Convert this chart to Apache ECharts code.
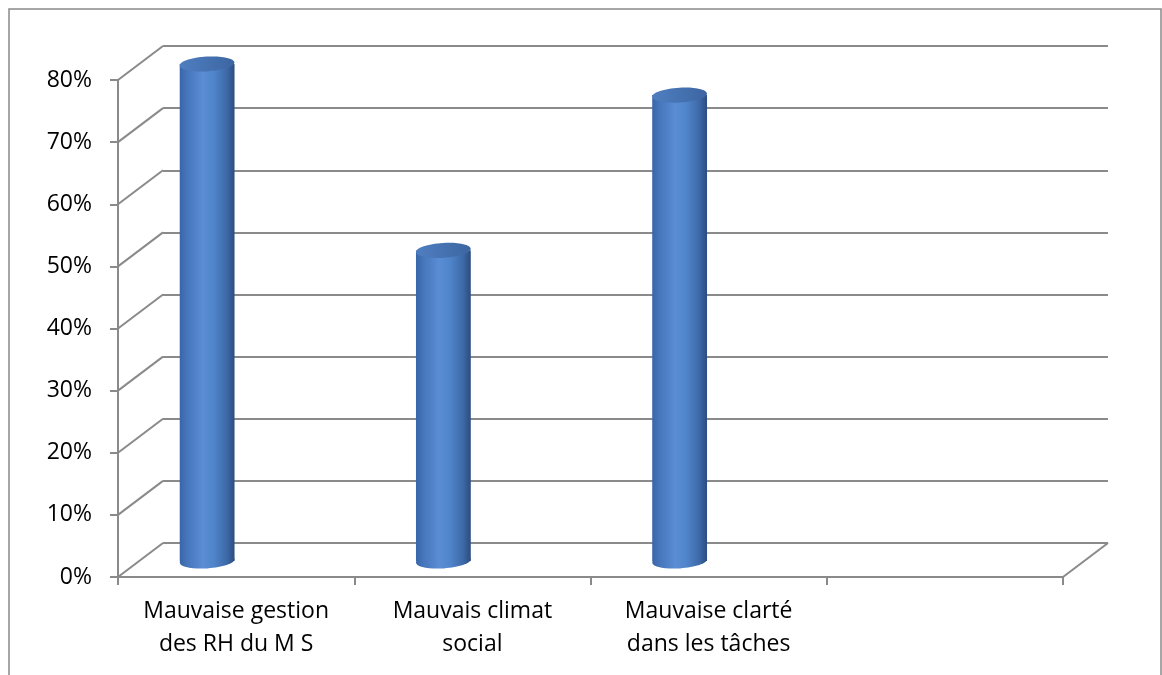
<!DOCTYPE html>
<html>
<head>
<meta charset="utf-8">
<script src="https://cdn.jsdelivr.net/npm/echarts@6/dist/echarts.min.js"></script>
<style>
  html, body { margin: 0; padding: 0; background: #fff; }
  #chart { width: 1162px; height: 675px; }
</style>
</head>
<body>
<div id="chart"></div>
<script>
// données
const categories = ['Mauvaise gestion\ndes RH du M S', 'Mauvais climat\nsocial', 'Mauvaise clarté\ndans les tâches', ''];
const values = [80, 50, 75];
const yMin = 0;
const yMax = 80;
const yStep = 10;

// effet 3D (profondeur du mur arrière, position des cylindres)
const DEPTH_X = 45, DEPTH_Y = -34;
const BAR_DX = -29, BAR_DY = -16;
const TILT = 0.06;
const LINE_COLOR = '#8a8a8a';
const FONT = '"Open Sans", "Liberation Sans", sans-serif';

const chart = echarts.init(document.getElementById('chart'));

const barData = values.map((v, i) => [i, v]);
const wallData = [];
for (let v = yMin; v <= yMax; v += yStep) wallData.push([0, v, 0]);
wallData.push([categories.length - 1, yMin, 1]);   // arête droite du sol

const sideGrad = new echarts.graphic.LinearGradient(0, 0, 1, 0, [
  {offset: 0, color: '#3a66a8'},
  {offset: 0.15, color: '#4777bd'},
  {offset: 0.42, color: '#5a8dd4'},
  {offset: 0.62, color: '#5085cb'},
  {offset: 0.86, color: '#3d69a7'},
  {offset: 1, color: '#2c4c80'}
]);
const topGrad = new echarts.graphic.LinearGradient(0, 0, 1, 0, [
  {offset: 0, color: '#4f7ec0'},
  {offset: 1, color: '#3c66a2'}
]);

const option = {
  animation: false,
  backgroundColor: '#fff',
  graphic: [{
    type: 'rect', silent: true, z: -10,
    shape: {x: 9, y: 9, width: 1152, height: 700},
    style: {fill: null, stroke: '#898989', lineWidth: 1.5}
  }],
  grid: [
    {left: 118, right: 99, top: 80, bottom: 98, outerBoundsMode: 'none'},
    {left: 163, right: 54, top: 46, bottom: 132, outerBoundsMode: 'none'}
  ],
  xAxis: [{
    type: 'category',
    gridIndex: 0,
    data: categories,
    boundaryGap: true,
    axisLine: {lineStyle: {color: LINE_COLOR, width: 2}},
    axisTick: {show: true, length: 8, lineStyle: {color: LINE_COLOR, width: 2}},
    axisLabel: {
      interval: 0, margin: 18, color: '#000',
      fontFamily: FONT, fontSize: 23, lineHeight: 33
    },
    splitLine: {show: false}
  }, {
    type: 'category',
    gridIndex: 1,
    data: categories,
    show: false
  }],
  yAxis: [{
    type: 'value',
    gridIndex: 0,
    min: yMin, max: yMax, interval: yStep,
    axisLine: {show: true, lineStyle: {color: LINE_COLOR, width: 2}},
    axisTick: {show: true, length: 8, lineStyle: {color: LINE_COLOR, width: 2}},
    axisLabel: {
      formatter: '{value}%', margin: 26, color: '#000',
      fontFamily: FONT, fontSize: 23
    },
    splitLine: {show: false}
  }, {
    type: 'value',
    gridIndex: 1,
    min: yMin, max: yMax, interval: yStep,
    axisLine: {show: false},
    axisTick: {show: false},
    axisLabel: {show: false},
    splitLine: {show: true, lineStyle: {color: LINE_COLOR, width: 2}}
  }],
  series: [{
    // diagonales du mur latéral et du sol
    type: 'custom',
    xAxisIndex: 0, yAxisIndex: 0,
    silent: true, z: 1,
    data: wallData,
    renderItem: function (params, api) {
      const cs = params.coordSys;
      const y = api.coord([0, api.value(1)])[1];
      const x = api.value(2) ? cs.x + cs.width : cs.x;
      return {
        type: 'line',
        shape: {x1: x, y1: y, x2: x + DEPTH_X, y2: y + DEPTH_Y},
        style: {stroke: LINE_COLOR, lineWidth: 2}
      };
    }
  }, {
    // cylindres
    type: 'custom',
    xAxisIndex: 0, yAxisIndex: 0,
    z: 5,
    data: barData,
    renderItem: function (params, api) {
      const top = api.coord([api.value(0), api.value(1)]);
      const base = api.coord([api.value(0), yMin]);
      const rx = api.size([1, 0])[0] * 0.116;
      const ry = rx * 0.27;
      const cx = top[0] + BAR_DX;
      const ty = top[1] + BAR_DY;
      const by = base[1] + BAR_DY;
      return {
        type: 'group',
        children: [
          {type: 'ellipse', shape: {cx: cx, cy: by, rx: rx, ry: ry}, style: {fill: sideGrad},
            rotation: TILT, originX: cx, originY: by},
          {type: 'rect', shape: {x: cx - rx, y: ty, width: 2 * rx, height: by - ty}, style: {fill: sideGrad}},
          {type: 'ellipse', shape: {cx: cx, cy: ty, rx: rx, ry: ry}, style: {fill: topGrad},
            rotation: TILT, originX: cx, originY: ty}
        ]
      };
    }
  }]
};

chart.setOption(option);
</script>
</body>
</html>
